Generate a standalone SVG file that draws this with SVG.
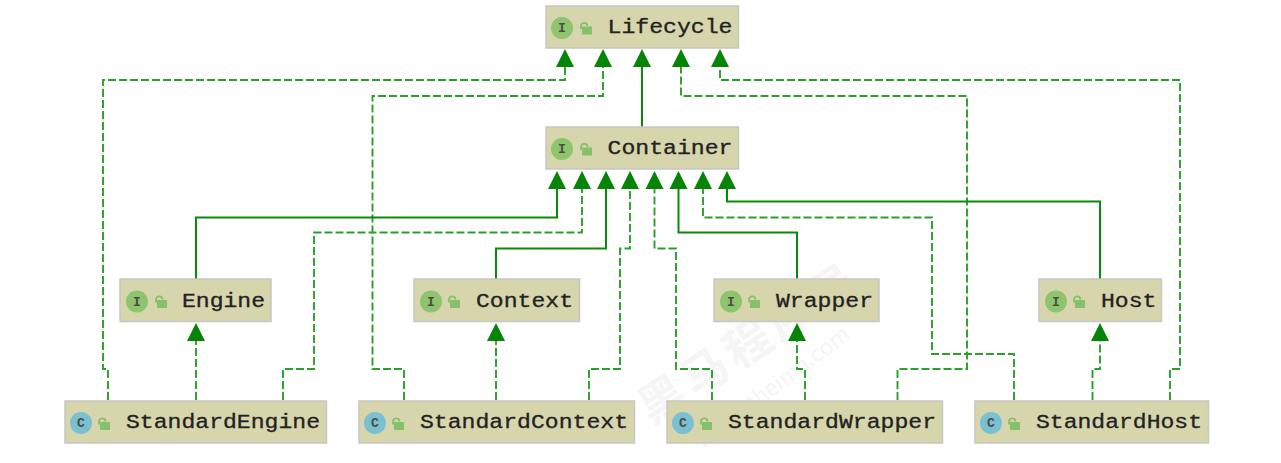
<svg xmlns="http://www.w3.org/2000/svg" width="1281" height="463" viewBox="0 0 1281 463">
<style>
.box{fill:#d6d5ac;stroke:#c6c6c2;stroke-width:1.5}
.name{font:20px "Liberation Mono","DejaVu Sans Mono",monospace;fill:#222;stroke:#222;stroke-width:.3}
.i{fill:#8fc46f}.c{fill:#79c0d2}
.k{font:bold 13px "Liberation Mono",monospace;fill:#4b4b42;text-anchor:middle}
.lock{fill:#84c168}
.lk{fill:none;stroke:#84c168;stroke-width:1.8}
.ln{fill:none;stroke:#0a8a0a;stroke-width:2}
.d{stroke:#2a9f2a;stroke-width:1.9;stroke-dasharray:8 3}
.tip{fill:#058405}
.wm{font-family:"Noto Sans CJK SC","Liberation Sans",sans-serif;fill:#f5f5f5;text-anchor:middle}
</style>
<defs>
<!-- open padlock used as the public-visibility mark -->
<g id="lk"><rect x="2" y="4.500" width="10" height="8" class="lock"/><path d="M1 7V4a3.200 3.200 0 0 1 6.400 0" class="lk"/></g>
<path id="ah" d="M0 0l-9 18h18z" class="tip"/>
</defs>
<g id="watermark">
<text class="wm" font-size="46" font-weight="700" x="750" y="359" letter-spacing="5" transform="rotate(-33 750 343)">黑马程序员</text>
<text class="wm" font-size="22" x="772" y="395" transform="rotate(-37 772 387)">www.itheima.com</text>
</g>
<g id="connectors">
<path class="ln" d="M642 64V127"/>
<path class="ln d" d="M108 400V369H103V80H565V64"/>
<path class="ln d" d="M404 400V369H372.500V96H603V64"/>
<path class="ln d" d="M897.500 400V369H967V96H681V64"/>
<path class="ln d" d="M1170 400V369H1180V80H720V64"/>
<path class="ln" d="M196 279V217.500H557V185"/>
<path class="ln d" d="M283 400V369H314V232.500H582V185"/>
<path class="ln" d="M496 279V248.500H606V185"/>
<path class="ln d" d="M589 400V369H620V248.500H630V185"/>
<path class="ln d" d="M712 400V369H676V248.500H654.500V185"/>
<path class="ln" d="M797 279V232.500H678.500V185"/>
<path class="ln d" d="M1014 400V354H932V217.500H703V185"/>
<path class="ln" d="M1100 279V201.500H727V185"/>
<path class="ln d" d="M196 400V336"/>
<path class="ln d" d="M496 400V336"/>
<path class="ln d" d="M805 400V369H797V336"/>
<path class="ln d" d="M1092.500 400V369H1100V336"/>
<use href="#ah" x="565" y="49"/><use href="#ah" x="603" y="49"/><use href="#ah" x="642" y="49"/><use href="#ah" x="681" y="49"/><use href="#ah" x="720" y="49"/>
<use href="#ah" x="557" y="171"/><use href="#ah" x="582" y="171"/><use href="#ah" x="606" y="171"/><use href="#ah" x="630" y="171"/><use href="#ah" x="654.500" y="171"/><use href="#ah" x="678.500" y="171"/><use href="#ah" x="703" y="171"/><use href="#ah" x="727" y="171"/>
<use href="#ah" x="196" y="323"/><use href="#ah" x="496" y="323"/><use href="#ah" x="797" y="323"/><use href="#ah" x="1100" y="323"/>
</g>
<g id="lifecycle"><rect class="box" x="546" y="6" width="192.500" height="42"/><circle class="i" cx="562" cy="28" r="11"/><text class="k" x="562" y="32">I</text><use href="#lk" x="580" y="22"/><text class="name" x="607.500" y="33" textLength="125" lengthAdjust="spacingAndGlyphs">Lifecycle</text></g>
<g id="container"><rect class="box" x="546" y="127" width="192.500" height="42"/><circle class="i" cx="562" cy="149" r="11"/><text class="k" x="562" y="153">I</text><use href="#lk" x="580" y="143"/><text class="name" x="607.500" y="154" textLength="125" lengthAdjust="spacingAndGlyphs">Container</text></g>
<g id="engine"><rect class="box" x="120" y="279" width="151" height="42.500"/><circle class="i" cx="137" cy="301.500" r="11"/><text class="k" x="137" y="305.500">I</text><use href="#lk" x="155" y="295.500"/><text class="name" x="182" y="307" textLength="83" lengthAdjust="spacingAndGlyphs">Engine</text></g>
<g id="context"><rect class="box" x="414" y="279" width="165.500" height="42.500"/><circle class="i" cx="431" cy="301.500" r="11"/><text class="k" x="431" y="305.500">I</text><use href="#lk" x="448" y="295.500"/><text class="name" x="476" y="307" textLength="97" lengthAdjust="spacingAndGlyphs">Context</text></g>
<g id="wrapper"><rect class="box" x="714" y="279" width="165" height="42.500"/><circle class="i" cx="731" cy="301.500" r="11"/><text class="k" x="731" y="305.500">I</text><use href="#lk" x="748" y="295.500"/><text class="name" x="776" y="307" textLength="97" lengthAdjust="spacingAndGlyphs">Wrapper</text></g>
<g id="host"><rect class="box" x="1039" y="279" width="122.500" height="42.500"/><circle class="i" cx="1056" cy="301.500" r="11"/><text class="k" x="1056" y="305.500">I</text><use href="#lk" x="1073" y="295.500"/><text class="name" x="1101" y="307" textLength="55.500" lengthAdjust="spacingAndGlyphs">Host</text></g>
<g id="standard-engine"><rect class="box" x="65" y="401" width="261.500" height="42"/><circle class="c" cx="81" cy="423" r="11"/><text class="k" x="81" y="427">C</text><use href="#lk" x="98" y="417.500"/><text class="name" x="126" y="428" textLength="194" lengthAdjust="spacingAndGlyphs">StandardEngine</text></g>
<g id="standard-context"><rect class="box" x="359" y="401" width="275.500" height="42"/><circle class="c" cx="375" cy="423" r="11"/><text class="k" x="375" y="427">C</text><use href="#lk" x="392" y="417.500"/><text class="name" x="420" y="428" textLength="208" lengthAdjust="spacingAndGlyphs">StandardContext</text></g>
<g id="standard-wrapper"><rect class="box" x="667" y="401" width="275.500" height="42"/><circle class="c" cx="683" cy="423" r="11"/><text class="k" x="683" y="427">C</text><use href="#lk" x="700" y="417.500"/><text class="name" x="728" y="428" textLength="208" lengthAdjust="spacingAndGlyphs">StandardWrapper</text></g>
<g id="standard-host"><rect class="box" x="975" y="401" width="233.500" height="42"/><circle class="c" cx="991" cy="423" r="11"/><text class="k" x="991" y="427">C</text><use href="#lk" x="1008" y="417.500"/><text class="name" x="1036" y="428" textLength="166" lengthAdjust="spacingAndGlyphs">StandardHost</text></g>
</svg>
